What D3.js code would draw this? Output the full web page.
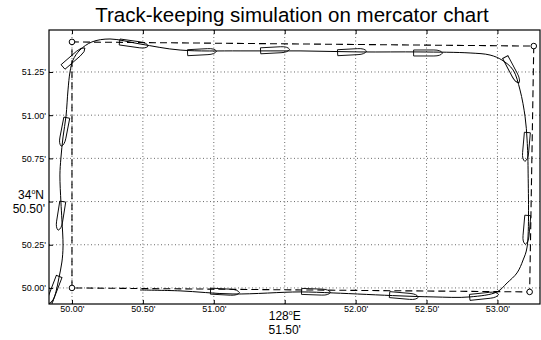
<!DOCTYPE html>
<html>
<head>
<meta charset="utf-8">
<script src="https://cdn.jsdelivr.net/npm/d3@7"></script>
<style>
  body { margin: 0; background: #fff; }
  svg text { font-family: "Liberation Sans", Arial, sans-serif; }
</style>
</head>
<body>
<div id="chart"></div>
<script>
// longitude minutes (128°E) and latitude minutes (34°N)
const lonTicks = [50.0, 50.5, 51.0, 51.5, 52.0, 52.5, 53.0];
const latTicks = [50.0, 50.25, 50.5, 50.75, 51.0, 51.25];

// planned route (waypoints)
const wpLon = [50.0, 53.256, 53.227, 50.0, 50.0];
const wpLat = [51.424, 51.40, 49.977, 50.0, 51.424];

// simulated track
const trackLon = [49.859, 49.887, 49.908, 49.929, 49.937, 49.929, 49.922, 49.915, 49.922, 49.937,
  49.958, 49.972, 49.986, 50.007, 50.056, 50.141, 50.268, 50.480, 50.762, 51.185, 51.608, 52.031,
  52.454, 52.807, 52.948, 53.032, 53.110, 53.159, 53.195, 53.209, 53.216, 53.209, 53.181, 53.138,
  53.068, 52.997, 52.807, 52.546, 52.313, 51.841, 51.608, 51.135, 50.762, 50.480];
const trackLat = [49.907, 49.977, 50.058, 50.150, 50.243, 50.394, 50.498, 50.654, 50.752, 50.874,
  50.995, 51.146, 51.250, 51.319, 51.377, 51.424, 51.441, 51.412, 51.377, 51.372, 51.372, 51.366,
  51.366, 51.360, 51.348, 51.319, 51.262, 51.146, 50.990, 50.856, 50.683, 50.237, 50.162, 50.087,
  50.029, 49.977, 49.948, 49.948, 49.954, 49.971, 49.977, 49.965, 49.983, 49.988];

// ship outlines along the track: centre and heading (deg, screen)
const shipLon = [50.014, 49.944, 49.919, 49.873, 50.437, 50.917, 51.432, 51.975, 52.511,
  53.103, 53.202, 53.205, 51.079, 51.721, 52.341, 52.906];
const shipLat = [51.334, 50.903, 50.417, 49.988, 51.412, 51.366, 51.377, 51.366, 51.360,
  51.262, 50.816, 50.336, 49.977, 49.977, 49.954, 49.954];
const shipHdg = [-41, 101, 99, 111, 8, -3, -3, -3, 0, 62, 95, 95, 3, 2, 5, -6];

const width = 541, height = 340;
const m = { left: 49, right: 540, top: 30, bottom: 304 };

const svg = d3.select('#chart').append('svg')
  .attr('width', width)
  .attr('height', height);

const x = d3.scaleLinear().domain([49.838, 53.30]).range([m.left, m.right]);
const y = d3.scaleLinear().domain([49.907, 51.493]).range([m.bottom, m.top]);

svg.append('text')
  .attr('x', 292).attr('y', 22)
  .attr('text-anchor', 'middle')
  .attr('font-size', 20.5)
  .text('Track-keeping simulation on mercator chart');

svg.append('defs').append('clipPath').attr('id', 'clip')
  .append('rect')
  .attr('x', m.left).attr('y', m.top)
  .attr('width', m.right - m.left).attr('height', m.bottom - m.top);

// grid
const grid = svg.append('g').attr('stroke', '#444').attr('stroke-width', 0.8)
  .attr('stroke-dasharray', '1,2.5');
grid.selectAll('.vg').data(lonTicks).enter().append('line')
  .attr('x1', d => x(d)).attr('x2', d => x(d))
  .attr('y1', m.top).attr('y2', m.bottom);
grid.selectAll('.hg').data(latTicks).enter().append('line')
  .attr('y1', d => y(d)).attr('y2', d => y(d))
  .attr('x1', m.left).attr('x2', m.right);

// axes
const fmt = d => d.toFixed(2) + "'";
const xAxis = svg.append('g')
  .attr('transform', `translate(0,${m.bottom})`)
  .call(d3.axisBottom(x).tickValues(lonTicks).tickSize(-4).tickPadding(2)
    .tickFormat(d => d === 51.5 ? '' : fmt(d)));
const yAxis = svg.append('g')
  .attr('transform', `translate(${m.left},0)`)
  .call(d3.axisLeft(y).tickValues(latTicks).tickSize(-4).tickPadding(3)
    .tickFormat(d => d === 50.5 ? '' : fmt(d)));
[xAxis, yAxis].forEach(a => {
  a.select('.domain').remove();
  a.selectAll('text').attr('font-size', 9).attr('fill', '#000')
    .attr('font-family', '"Liberation Sans", Arial, sans-serif');
  a.selectAll('line').attr('stroke', '#000');
});
svg.append('g').attr('transform', `translate(0,${m.top})`)
  .call(d3.axisTop(x).tickValues(lonTicks).tickSize(-4).tickFormat(''))
  .call(g => g.select('.domain').remove())
  .selectAll('line').attr('stroke', '#000');

// frame
svg.append('rect')
  .attr('x', m.left).attr('y', m.top)
  .attr('width', m.right - m.left).attr('height', m.bottom - m.top)
  .attr('fill', 'none').attr('stroke', '#000').attr('stroke-width', 1.2);

// special labels
const lab = svg.append('g').attr('font-size', 12).attr('text-anchor', 'end');
const ln = lab.append('text').attr('x', 44).attr('y', y(50.5) - 3);
ln.append('tspan').text('34');
ln.append('tspan').attr('font-size', 7).attr('dy', -5).text('o');
ln.append('tspan').attr('dy', 5).text('N');
lab.append('text').attr('x', 45).attr('y', y(50.5) + 11).text("50.50'");
const le = svg.append('g').attr('font-size', 12).attr('text-anchor', 'middle');
const te = le.append('text').attr('x', x(51.5)).attr('y', 320);
te.append('tspan').text('128');
te.append('tspan').attr('font-size', 7).attr('dy', -5).text('o');
te.append('tspan').attr('dy', 5).text('E');
le.append('text').attr('x', x(51.5)).attr('y', 334).text("51.50'");

const plot = svg.append('g').attr('clip-path', 'url(#clip)');

// planned route
const wp = d3.zip(wpLon, wpLat);
plot.append('path')
  .attr('d', d3.line().x(d => x(d[0])).y(d => y(d[1]))(wp))
  .attr('fill', 'none').attr('stroke', '#000').attr('stroke-width', 1.1)
  .attr('stroke-dasharray', '7,4');
plot.selectAll('.wp').data(wp.slice(0, 4)).enter().append('circle')
  .attr('cx', d => x(d[0])).attr('cy', d => y(d[1])).attr('r', 2.8)
  .attr('fill', '#fff').attr('stroke', '#000').attr('stroke-width', 1);

// track
plot.append('path')
  .attr('d', d3.line().x(d => x(d[0])).y(d => y(d[1])).curve(d3.curveCatmullRom)(d3.zip(trackLon, trackLat)))
  .attr('fill', 'none').attr('stroke', '#000').attr('stroke-width', 1);

// ships
const L = 29, H = 3;
const shipPath = `M${-L / 2},${-H} L${L / 5},${-H} Q${L / 2.3},${-H} ${L / 2},0 Q${L / 2.3},${H} ${L / 5},${H} L${-L / 2},${H} Z`;
plot.selectAll('.ship').data(d3.zip(shipLon, shipLat, shipHdg)).enter().append('path')
  .attr('d', shipPath)
  .attr('transform', d => `translate(${x(d[0])},${y(d[1])}) rotate(${d[2]})`)
  .attr('fill', 'none').attr('stroke', '#000').attr('stroke-width', 0.9);
</script>
</body>
</html>
